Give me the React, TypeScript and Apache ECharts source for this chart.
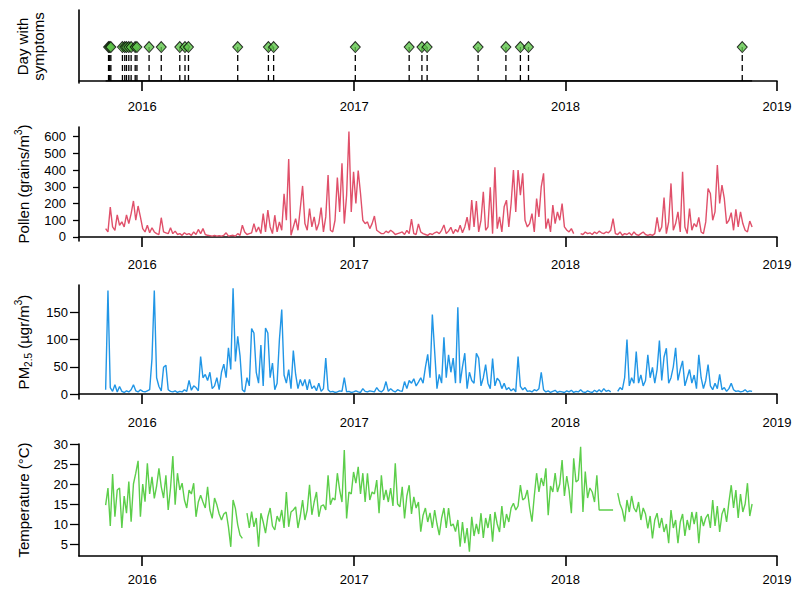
import React, { useEffect, useRef } from "react";
import * as echarts from "echarts";

// ---------- data (one sample every 4 days, starting 2015-10-30) ----------
const START_Y = 2015;
const START_M = 9; // October (0-based)
const START_D = 30;
const STEP_DAYS = 4;

const POLLEN: (number | null)[] = [
  50, 30, 178, 60, 40, 132, 70, 90, 60, 132,
  80, 140, 215, 100, 185, 120, 50, 30, 70, 25,
  55, 30, 20, 15, 115, 30, 25, 20, 55, 20,
  35, 15, 20, 10, 25, 15, 20, 10, 30, 15,
  45, 20, 50, 15, 10, 8, 5, 10, 5, 8,
  5, 10, 25, 5, 8, 10, 5, 20, 10, 70,
  30, 15, 20, 25, 80, 30, 60, 20, 140, 30,
  160, 60, 20, 130, 30, 90, 40, 258, 100, 466,
  10, 60, 110, 40, 170, 305, 80, 40, 170, 60,
  120, 40, 80, 175, 30, 120, 370, 40, 30, 100,
  355, 150, 440, 80, 250, 630, 150, 390, 200, 397,
  260, 100, 80, 90, 50, 80, 125, 40, 30, 20,
  20, 35, 25, 40, 30, 15, 20, 25, 30, 15,
  40, 20, 107, 20, 15, 78, 30, 20, 15, 10,
  20, 15, 25, 30, 20, 40, 72, 20, 35, 58,
  20, 45, 30, 70, 25, 60, 118, 40, 220, 60,
  215, 30, 100, 270, 40, 60, 297, 20, 416, 50,
  120, 30, 180, 220, 60, 200, 400, 150, 400, 250,
  380, 100, 60, 80, 140, 30, 230, 120, 300, 380,
  50, 110, 30, 190, 80, 150, 100, 200, 60, 42,
  30, 50, 20, null, null, 20, 15, 30, 20, 25,
  15, 30, 20, 35, 25, 20, 30, 25, 40, 110,
  20, 15, 30, 10, 20, 15, 25, 10, 30, 15,
  10, 20, 30, 15, 10, 15, 10, 20, 117, 30,
  60, 235, 20, 90, 320, 40, 80, 150, 30, 390,
  60, 20, 170, 40, 80, 60, 117, 30, 20, 90,
  290, 260, 100, 150, 430, 200, 310, 230, 80, 100,
  145, 40, 165, 60, 150, 80, 40, 30, 95, 60,
];

const PM25: (number | null)[] = [
  8, 190, 12, 5, 17, 4, 14, 5, 3, 6,
  4, 8, 17, 6, 4, 8, 5, 4, 6, 8,
  65, 190, 30, 14, 6, 49, 53, 8, 5, 4,
  6, 3, 5, 4, 8, 5, 25, 7, 15, 12,
  6, 69, 30, 36, 25, 40, 10, 15, 30, 8,
  40, 55, 30, 85, 45, 194, 60, 106, 70, 8,
  4, 30, 15, 120, 112, 40, 20, 90, 15, 121,
  112, 30, 57, 8, 20, 100, 155, 35, 20, 45,
  10, 80, 36, 10, 27, 15, 27, 8, 27, 10,
  15, 6, 20, 5, 10, 66, 8, 4, 5, 3,
  4, 6, 5, 30, 4, 5, 3, 4, 6, 4,
  3, 10, 5, 4, 6, 5, 4, 12, 6, 4,
  8, 23, 5, 10, 6, 4, 8, 6, 5, 23,
  10, 25, 20, 28, 15, 22, 30, 20, 49, 73,
  30, 146, 78, 10, 36, 20, 104, 30, 72, 40,
  66, 20, 159, 20, 50, 75, 10, 40, 25, 20,
  75, 66, 15, 30, 54, 20, 10, 65, 15, 29,
  24, 10, 20, 8, 12, 6, 10, 4, 69, 14,
  8, 12, 5, 6, 4, 8, 6, 10, 40, 8,
  4, 6, 3, 5, 7, 3, 5, 4, 3, 6,
  4, 7, 3, 5, 4, 8, 4, 3, 6, 4,
  3, 7, 4, 8, 4, 10, 5, 7, 4, null,
  null, 5, 12, 8, 30, 100, 15, 30, 20, 78,
  20, 35, 15, 25, 72, 30, 49, 20, 45, 98,
  25, 68, 84, 20, 30, 50, 85, 25, 45, 61,
  15, 30, 45, 20, 35, 10, 72, 30, 10, 25,
  54, 15, 8, 20, 10, 36, 8, 12, 5, 10,
  20, 8, 5, 6, 4, 5, 8, 4, 6, 5,
];

const TEMPERATURE: (number | null)[] = [
  14.7, 19.0, 9.5, 22.5, 11.8, 18.5, 19.0, 9.0, 17.0, 12.7,
  20.6, 10.6, 20.0, 22.7, 25.8, 11.8, 20.0, 15.6, 25.2, 17.5,
  21.8, 16.4, 19.5, 23.9, 19.3, 16.5, 22.2, 13.5, 19.0, 27.0,
  14.8, 22.7, 18.5, 20.2, 16.0, 14.0, 18.5, 17.5, 20.2, 11.8,
  15.5, 17.2, 15.5, 14.0, 19.3, 13.5, 11.4, 16.5, 14.8, 12.5,
  11.0, 12.5, 13.0, 9.3, 4.3, 16.0, 13.9, 9.8, 7.2, 6.4,
  null, 12.7, 9.0, 13.1, 9.3, 11.5, 4.3, 12.7, 10.5, 7.7,
  11.8, 14.0, 9.5, 8.5, 12.0, 10.6, 13.5, 9.0, 18.0, 9.3,
  13.0, 13.5, 14.3, 9.0, 12.0, 16.0, 11.0, 13.5, 19.8, 12.3,
  15.5, 18.0, 11.8, 14.5, 14.8, 13.5, 22.2, 14.8, 16.5, 16.0,
  22.7, 18.5, 15.5, 28.5, 11.4, 18.0, 17.5, 23.0, 20.2, 24.3,
  17.5, 22.7, 15.5, 22.7, 16.0, 18.0, 17.5, 21.0, 12.7, 22.2,
  16.0, 18.5, 15.5, 19.0, 14.5, 25.2, 15.0, 14.3, 19.3, 11.4,
  17.0, 19.7, 12.5, 16.8, 14.0, 15.5, 8.1, 12.2, 14.0, 10.5,
  12.8, 9.0, 13.5, 10.0, 7.2, 11.5, 14.0, 9.0, 14.0, 9.5,
  10.0, 8.1, 11.0, 4.3, 10.5, 5.2, 9.0, 3.1, 11.8, 7.0,
  10.0, 7.5, 12.7, 6.5, 11.5, 9.0, 12.5, 5.6, 13.0, 10.0,
  8.0, 14.5, 9.0, 12.5, 10.5, 14.0, 15.2, 13.5, 14.5, 19.7,
  16.0, 16.5, 18.5, 14.0, 10.6, 17.0, 22.7, 18.0, 21.5, 19.5,
  23.9, 12.2, 19.5, 18.0, 22.7, 18.0, 20.0, 26.0, 17.0, 22.0,
  18.5, 12.7, 26.4, 20.5, 21.0, 29.3, 13.0, 23.1, 16.5, 19.0,
  18.0, 15.5, 22.2, 13.5, 13.5, 13.5, 13.5, 13.5, 13.5, 13.5,
  null, 17.7, 15.0, 13.5, 10.6, 16.0, 13.0, 17.0, 14.0, 13.0,
  15.5, 11.0, 14.0, 12.5, 8.9, 12.0, 6.4, 11.0, 12.7, 9.0,
  11.5, 8.0, 10.0, 5.2, 13.5, 9.0, 11.0, 5.2, 10.5, 12.5,
  7.0, 11.0, 8.5, 13.0, 10.0, 13.0, 5.2, 12.0, 9.5, 11.5,
  12.5, 9.0, 16.0, 9.5, 14.5, 8.0, 12.5, 14.0, 10.5, 15.5,
  19.7, 14.0, 18.5, 11.5, 17.5, 13.0, 15.0, 20.2, 12.0, 15.0,
];

const SYMPTOM_DATES = [
  "2015-11-04", "2015-11-06", "2015-11-08", "2015-11-28", "2015-12-02",
  "2015-12-05", "2015-12-09", "2015-12-13", "2015-12-20", "2015-12-23",
  "2016-01-13", "2016-02-03", "2016-03-06", "2016-03-15", "2016-03-21",
  "2016-06-14", "2016-08-06", "2016-08-15", "2017-01-03", "2017-04-06",
  "2017-04-28", "2017-05-07", "2017-08-03", "2017-09-20", "2017-10-15",
  "2017-10-29", "2018-11-02",
];
const SYMPTOM_LEVEL = 0.5;

const YEAR_TICKS = [2016, 2017, 2018, 2019];
const POLLEN_TICKS = [0, 100, 200, 300, 400, 500, 600];
const PM_TICKS = [0, 50, 100, 150];
const TEMP_TICKS = [5, 10, 15, 20, 25, 30];

// ---------- helpers ----------
const FONT = '"Liberation Sans", Arial, Helvetica, sans-serif';
const toTime = (s: string) => {
  const [y, m, d] = s.split("-").map(Number);
  return new Date(y, m - 1, d).getTime();
};
const DATES = POLLEN.map((_, i) =>
  new Date(START_Y, START_M, START_D + STEP_DAYS * i).getTime()
);
const pairs = (vals: (number | null)[]) =>
  vals.map((v, i) => [DATES[i], v === null ? "-" : v]);

const XMIN = new Date(2015, 8, 14).getTime();
const XMAX = new Date(2019, 0, 1).getTime();
const yearTickTimes = YEAR_TICKS.map((y) => new Date(y, 0, 1).getTime());

const GRIDS = [
  { top: 10, height: 73 },
  { top: 127, height: 114 },
  { top: 285, height: 114 },
  { top: 444, height: 112 },
];

function xAxis(gridIndex: number) {
  return {
    type: "value",
    gridIndex,
    min: XMIN,
    max: XMAX,
    axisLine: { show: true, lineStyle: { color: "#000", width: 1.6 } },
    axisTick: {
      show: true,
      length: 10,
      customValues: yearTickTimes,
      lineStyle: { color: "#000", width: 1.6 },
    },
    axisLabel: {
      customValues: yearTickTimes,
      formatter: (v: number) => String(new Date(v).getFullYear()),
      color: "#000",
      fontSize: 13,
      fontFamily: FONT,
      margin: 17,
    },
    splitLine: { show: false },
  };
}

const nameStyle = {
  fontSize: 15,
  color: "#000",
  fontFamily: FONT,
  lineHeight: 20,
  rich: {
    sup: { fontSize: 10, fontFamily: FONT, color: "#000", verticalAlign: "top", lineHeight: 10 },
    sub: { fontSize: 10, fontFamily: FONT, color: "#000", verticalAlign: "bottom", lineHeight: 10 },
  },
};

function yAxis(
  gridIndex: number,
  min: number,
  max: number,
  ticks: number[] | null,
  name: string,
  nameGap: number,
  tickLen: number,
  labelMargin: number,
  lineHeight = 20
) {
  return {
    type: "value",
    gridIndex,
    min,
    max,
    name,
    nameLocation: "middle",
    nameRotate: 90,
    nameGap,
    nameTextStyle: { ...nameStyle, lineHeight },
    axisLine: { show: true, lineStyle: { color: "#000", width: 1.6 } },
    axisTick: ticks
      ? { show: true, length: tickLen, customValues: ticks, lineStyle: { color: "#000", width: 1.3 } }
      : { show: false },
    axisLabel: ticks
      ? { customValues: ticks, color: "#000", fontSize: 13, fontFamily: FONT, margin: labelMargin }
      : { show: false },
    splitLine: { show: false },
  };
}

export default function App() {
  const ref = useRef<HTMLDivElement>(null);

  useEffect(() => {
    if (!ref.current) return;
    const chart = echarts.init(ref.current, null, { renderer: "svg" });
    const symptomTimes = SYMPTOM_DATES.map(toTime);
    const firstDate = DATES[0];
    const lastDate = DATES[DATES.length - 1];

    chart.setOption({
      animation: false,
      backgroundColor: "#fff",
      textStyle: { fontFamily: FONT },
      grid: GRIDS.map((g) => ({ left: 79, width: 698, top: g.top, height: g.height })),
      xAxis: [xAxis(0), xAxis(1), xAxis(2), xAxis(3)],
      yAxis: [
        yAxis(0, -0.03, 1.045, null, "Day with\nsymptoms", 33, 0, 0, 16),
        yAxis(1, -24, 657, POLLEN_TICKS, "Pollen (grains/m{sup|3})", 46, 6, 13),
        yAxis(2, -9, 200, PM_TICKS, "PM{sub|2.5} (µgr/m{sup|3})", 46, 9, 11),
        yAxis(3, 2, 30, TEMP_TICKS, "Temperature (°C)", 46, 9, 11),
      ],
      series: [
        {
          type: "line",
          xAxisIndex: 0,
          yAxisIndex: 0,
          data: [
            [firstDate, 0],
            [lastDate, 0],
          ],
          showSymbol: false,
          lineStyle: { color: "#000", width: 1.3 },
          z: 1,
        },
        {
          type: "custom",
          xAxisIndex: 0,
          yAxisIndex: 0,
          data: symptomTimes.map((t) => [t, SYMPTOM_LEVEL]),
          renderItem: (_params: any, api: any) => {
            const p0 = api.coord([api.value(0), 0]);
            const p1 = api.coord([api.value(0), api.value(1)]);
            return {
              type: "line",
              shape: { x1: p0[0], y1: p0[1], x2: p1[0], y2: p1[1] },
              style: { stroke: "#000", lineWidth: 1.3, lineDash: [6, 4] },
            };
          },
          z: 2,
        },
        {
          type: "scatter",
          xAxisIndex: 0,
          yAxisIndex: 0,
          data: symptomTimes.map((t) => [t, SYMPTOM_LEVEL]),
          symbol: "diamond",
          symbolSize: [10, 11],
          itemStyle: { color: "#5ec44a", borderColor: "#000", borderWidth: 1 },
          z: 3,
        },
        {
          type: "line",
          xAxisIndex: 1,
          yAxisIndex: 1,
          data: pairs(POLLEN),
          showSymbol: false,
          lineStyle: { color: "#e0506a", width: 1.4 },
        },
        {
          type: "line",
          xAxisIndex: 2,
          yAxisIndex: 2,
          data: pairs(PM25),
          showSymbol: false,
          lineStyle: { color: "#2196e6", width: 1.4 },
        },
        {
          type: "line",
          xAxisIndex: 3,
          yAxisIndex: 3,
          data: pairs(TEMPERATURE),
          showSymbol: false,
          lineStyle: { color: "#5cce4a", width: 1.4 },
        },
      ],
    });

    return () => chart.dispose();
  }, []);

  return (
    <div
      ref={ref}
      style={{ position: "fixed", left: 0, top: 0, width: 800, height: 594 }}
    />
  );
}
